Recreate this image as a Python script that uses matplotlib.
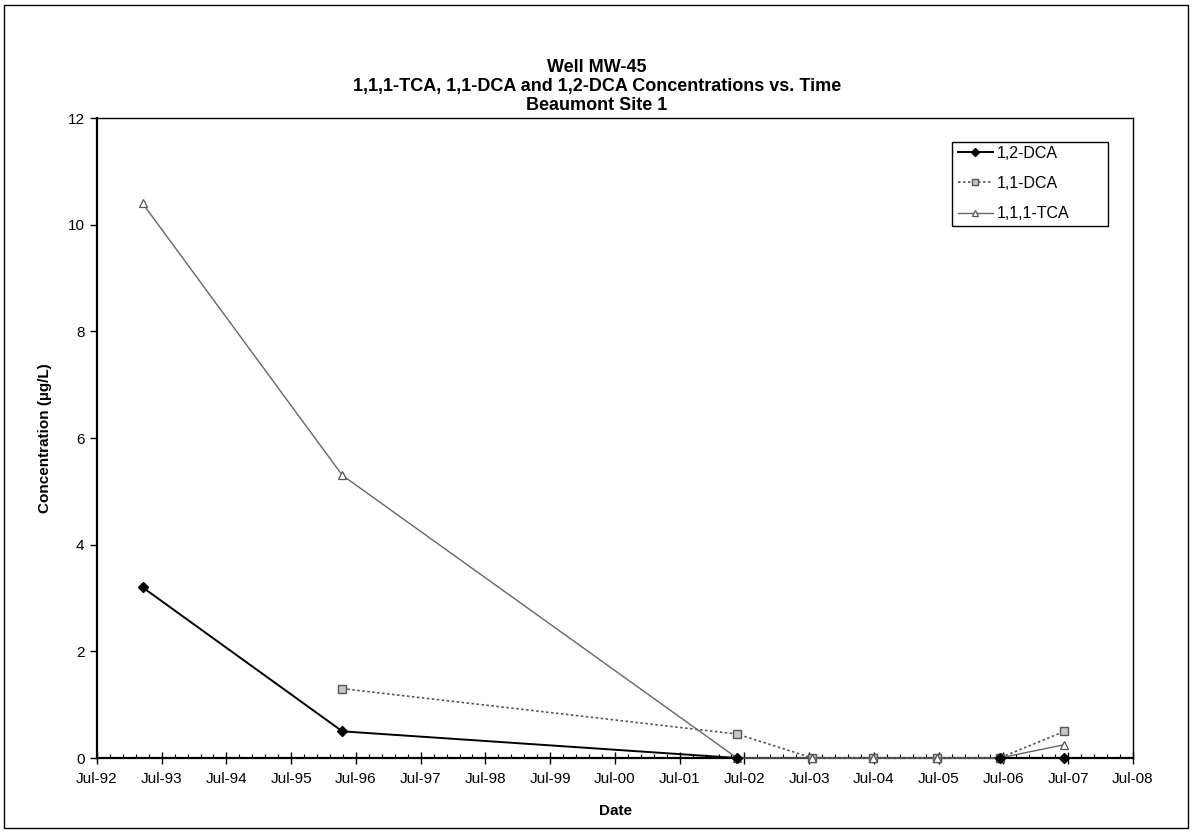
import numpy as np
import matplotlib
matplotlib.use("Agg")
import matplotlib.pyplot as plt
import matplotlib.dates as mdates
from matplotlib.patches import Rectangle
from datetime import datetime

plt.rcParams['font.family'] = ['Liberation Sans', 'DejaVu Sans']

# Sampling dates and concentrations (ug/L)
sample_dates = ["1993-03-15", "1996-04-15", "2002-05-20", "2003-07-20",
                "2004-06-25", "2005-06-20", "2006-06-10", "2007-06-10"]
dca12 = [3.2, 0.5, 0.0, np.nan, np.nan, np.nan, 0.0, 0.0]
dca11 = [np.nan, 1.3, 0.45, 0.0, 0.0, 0.0, 0.0, 0.5]
tca111 = [10.4, 5.3, 0.0, 0.0, 0.0, 0.0, 0.0, 0.25]

series_labels = ["1,2-DCA", "1,1-DCA", "1,1,1-TCA"]
y_ticks = [0, 2, 4, 6, 8, 10, 12]
x_start, x_end = "1992-07-01", "2008-07-01"

dates = [datetime.strptime(d, "%Y-%m-%d") for d in sample_dates]

W, H = 1193, 835
fig = plt.figure(figsize=(W / 100, H / 100), dpi=100)
ax = fig.add_axes([97 / W, 1 - 758 / H, (1133 - 97) / W, (758 - 118) / H])

ax.plot(dates, dca12, color="black", lw=1.4, marker="D", ms=5,
        mfc="black", mec="black", label=series_labels[0], clip_on=False, zorder=4)
ax.plot(dates, dca11, color="#555555", lw=1.2, ls=(0, (1.5, 1.5)), marker="s", ms=6,
        mfc="#c8c8c8", mec="#555555", mew=1.0, label=series_labels[1], clip_on=False, zorder=3)
ax.plot(dates, tca111, color="#666666", lw=1.0, marker="^", ms=6,
        mfc="white", mec="#555555", mew=0.9, label=series_labels[2], clip_on=False, zorder=3)

x0 = mdates.datestr2num(x_start)
x1 = mdates.datestr2num(x_end)
ax.set_xlim(x0, x1)
ax.set_ylim(y_ticks[0], y_ticks[-1])
ax.set_yticks(y_ticks)

ax.xaxis.set_major_locator(mdates.MonthLocator(bymonth=7, bymonthday=1))
ax.xaxis.set_major_formatter(mdates.DateFormatter("%b-%y"))
majors = np.array([mdates.date2num(datetime(y, 7, 1)) for y in range(1992, 2009)])
minor = []
for a, b in zip(majors[:-1], majors[1:]):
    minor.extend(a + (b - a) * np.arange(1, 5) / 5)
ax.xaxis.set_minor_locator(matplotlib.ticker.FixedLocator(minor))

ax.tick_params(axis="x", which="major", direction="inout", length=8, width=1,
               labelsize=11, pad=6)
ax.tick_params(axis="x", which="minor", direction="in", length=3, width=0.8)
ax.tick_params(axis="y", which="major", direction="out", length=5, width=1,
               labelsize=11, pad=4)

for s in ax.spines.values():
    s.set_linewidth(1.0)
ax.spines["left"].set_linewidth(1.6)
ax.spines["bottom"].set_linewidth(1.6)

ax.set_xlabel("Date", fontsize=11, fontweight="bold", labelpad=13)
ax.set_ylabel("Concentration (\u00b5g/L)", fontsize=11, fontweight="bold", labelpad=11)

title_lines = ["Well MW-45",
               "1,1,1-TCA, 1,1-DCA and 1,2-DCA Concentrations vs. Time",
               "Beaumont Site 1"]
for line, yp in zip(title_lines, [67, 86, 105]):
    fig.text(597 / W, 1 - yp / H, line, ha="center", va="center",
             fontsize=13, fontweight="bold")

# Legend entries without their own frame; the box is drawn separately
leg = ax.legend(loc="upper left", bbox_to_anchor=(953 / W, 1 - 141 / H),
                bbox_transform=fig.transFigure, frameon=False,
                fontsize=11.5, handlelength=2.2, handletextpad=0.25,
                labelspacing=0.95, borderpad=0.3, borderaxespad=0,
                markerscale=0.8)
fig.patches.append(Rectangle((952 / W, 1 - 226 / H), (1108 - 952) / W, (226 - 142) / H,
                             transform=fig.transFigure, fill=False,
                             edgecolor="black", lw=1.0, zorder=5))

fig.patches.append(Rectangle((4 / W, 1 - 828 / H), (1188 - 4) / W, (828 - 5) / H,
                             transform=fig.transFigure, fill=False,
                             edgecolor="black", lw=1.0))

fig.savefig("out.png", dpi=100)
